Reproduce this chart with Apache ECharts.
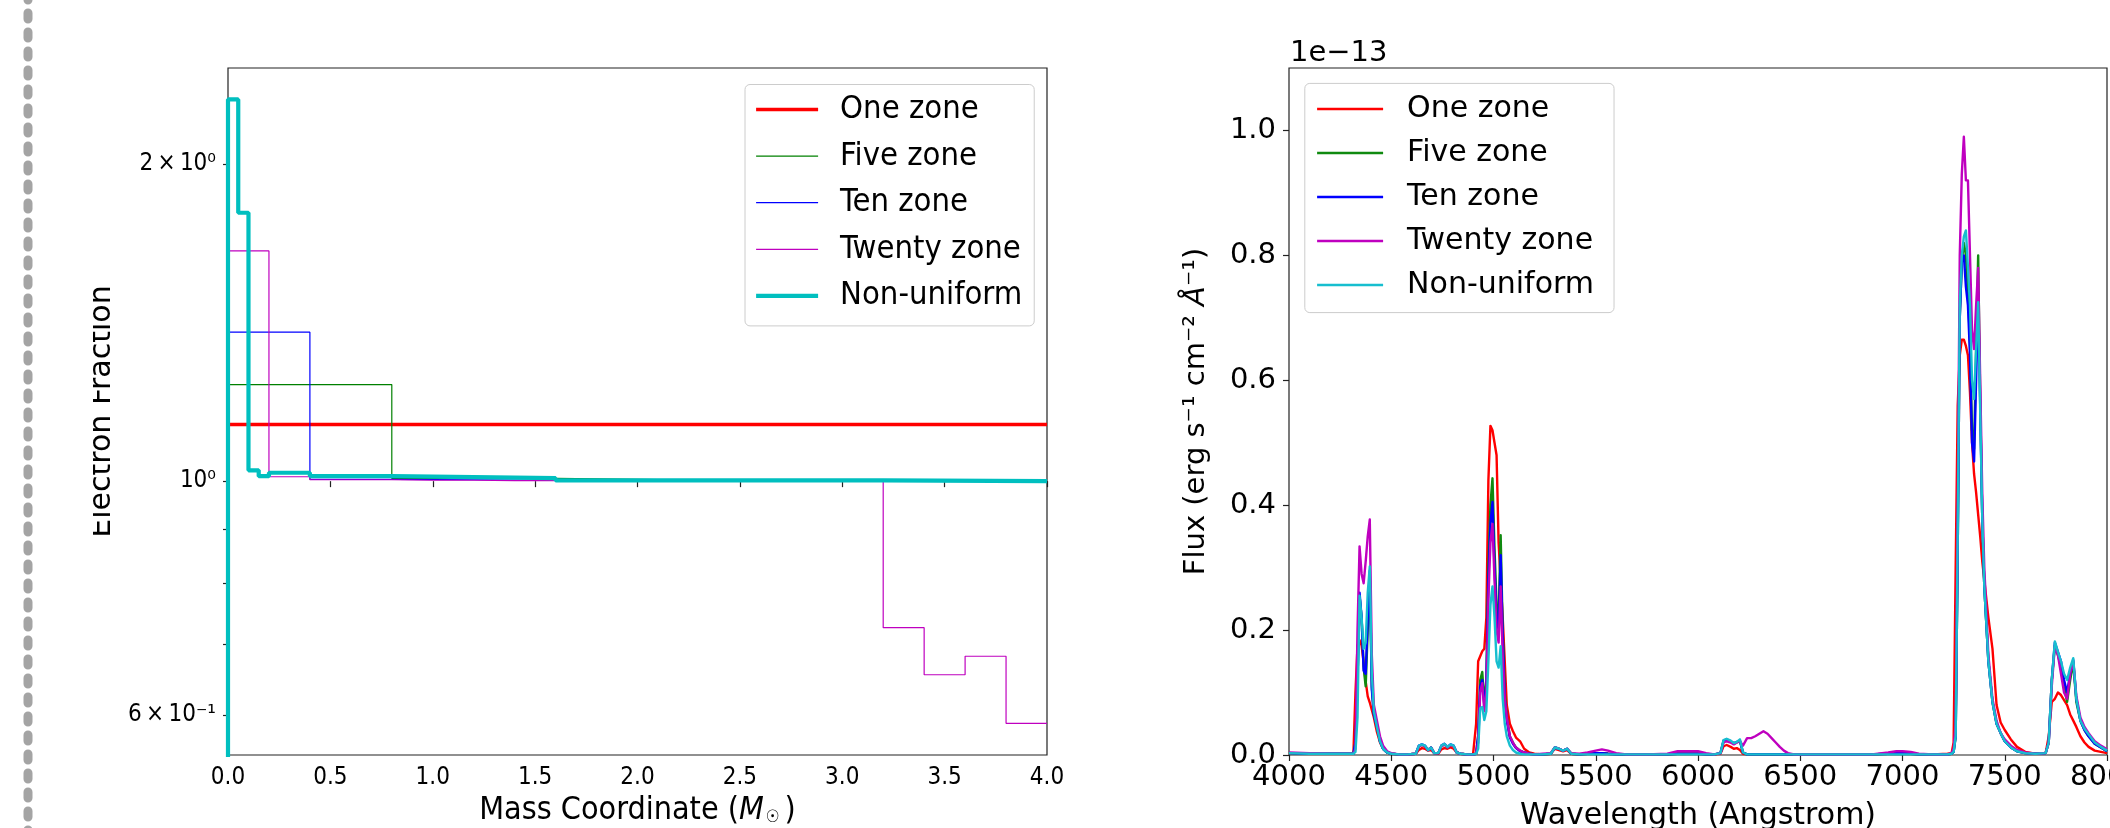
<!DOCTYPE html>
<html><head><meta charset="utf-8">
<script src="https://cdn.jsdelivr.net/npm/echarts@6/dist/echarts.min.js"></script>
<style>
html,body{margin:0;padding:0;background:#fff;overflow:hidden;width:2110px;height:828px}
#c1{position:absolute;left:0;top:0;width:1100px;height:828px}
#c2{position:absolute;left:1100px;top:0;width:1010px;height:828px}
</style></head><body><div id="c1"></div><div id="c2"></div>
<script>
// ---------------- DATA ----------------
const seriesNames = ['One zone', 'Five zone', 'Ten zone', 'Twenty zone', 'Non-uniform'];

// Left panel: electron fraction step profiles (zone edges in M_sun, value per zone)
const oneEdges = [0, 4.0];
const oneVals = [1.132];
const fiveEdges = [0, 0.8, 1.6, 2.4, 3.2, 4.0];
const fiveVals = [1.235, 1.006, 1.002, 1.001, 1.0];
const tenEdges = [0, 0.4, 0.8, 1.2, 1.6, 2.0, 2.4, 2.8, 3.2, 3.6, 4.0];
const tenVals = [1.385, 1.004, 1.003, 1.002, 1.001, 1.001, 1.0, 1.0, 1.0, 1.0];
const twentyEdges = [0, 0.2, 0.4, 0.6, 0.8, 1.0, 1.2, 1.4, 1.6, 1.8, 2.0, 2.2, 2.4, 2.6, 2.8, 3.0, 3.2, 3.4, 3.6, 3.8, 4.0];
const twentyVals = [1.654, 1.0097, 1.003, 1.003, 1.002, 1.002, 1.001, 1.001, 1.001, 1.001, 1.0, 1.0, 1.0, 1.0, 1.0, 1.0, 0.726, 0.655, 0.682, 0.589];
const nonEdges = [0, 0, 0.05, 0.1, 0.15, 0.2, 0.4, 0.8, 1.6, 3.2, 4.0];
const nonVals = [0.5, 2.303, 1.798, 1.024, 1.011, 1.0185, 1.011, 1.0066, 1.0015, 1.0];

// Left panel axis
const leftYMin = 0.5496, leftYMax = 2.467;
const leftYLabelValues = [0.6, 1, 2];
const leftYLabelTexts = ['6\u2009×\u200910⁻¹', '10⁰', '2\u2009×\u200910⁰'];
const leftYTickValues = [0.6, 0.7, 0.8, 0.9, 1, 2];

// Right panel: spectra (flux in units of 1e-13 erg/s/cm2/A)
const wl = [
 4000,4100,4200,4300,
 4315,4325,4335,4345,4355,4365,4375,4385,4395,4405,
 4415,4430,4445,4460,4480,4500,4540,4580,4620,4635,
 4650,4665,4680,4695,4710,4730,4745,4760,4775,4790,
 4805,4820,4840,4870,4900,4915,4925,4935,4945,4955,
 4965,4975,4985,4995,5005,5015,5025,5035,5045,5055,
 5065,5080,5095,5110,5130,5150,5175,5200,5240,5280,
 5300,5320,5340,5360,5380,5420,5460,5500,5530,5560,
 5600,5650,5750,5850,5900,5950,6000,6040,6080,6110,
 6125,6140,6160,6175,6190,6205,6220,6240,6260,6280,
 6300,6320,6340,6360,6380,6400,6420,6440,6470,6550,
 6700,6850,6930,6970,7000,7040,7080,7150,7220,7240,
 7250,7260,7270,7280,7290,7300,7310,7320,7330,7340,
 7350,7360,7370,7380,7390,7400,7420,7440,7460,7480,
 7500,7530,7560,7600,7650,7700,7715,7730,7745,7760,
 7775,7790,7805,7820,7835,7850,7870,7890,7910,7940,
 7970,8000
];
const fluxOne = [
 0.003,0.002,0.002,0.002,
 0.003,0.10,0.175,0.184,0.175,0.148,0.118,0.094,0.084,0.072,
 0.06,0.037,0.02,0.01,0.004,0.002,0.001,0.001,0.002,0.008,
 0.011,0.01,0.007,0.008,0.003,0.002,0.009,0.011,0.01,0.012,
 0.01,0.004,0.002,0.001,0.001,0.05,0.15,0.158,0.166,0.17,
 0.22,0.44,0.527,0.52,0.50,0.48,0.34,0.28,0.22,0.15,
 0.08,0.05,0.038,0.028,0.022,0.01,0.004,0.002,0.001,0.002,
 0.01,0.008,0.006,0.008,0.002,0.001,0.002,0.003,0.003,0.002,
 0.001,0.001,0.001,0.001,0.002,0.002,0.002,0.001,0.001,0.002,
 0.014,0.016,0.013,0.01,0.011,0.008,0.002,0.001,0.001,0.001,
 0.001,0.001,0.001,0.001,0.001,0.001,0.001,0.001,0.001,0.001,
 0.001,0.001,0.002,0.003,0.003,0.002,0.001,0.001,0.002,0.003,
 0.02,0.30,0.56,0.64,0.665,0.665,0.655,0.64,0.58,0.50,
 0.45,0.42,0.385,0.35,0.31,0.28,0.22,0.17,0.08,0.052,
 0.04,0.025,0.013,0.005,0.002,0.003,0.03,0.085,0.09,0.10,
 0.096,0.088,0.08,0.065,0.055,0.045,0.03,0.02,0.013,0.007,
 0.005,0.003
];
const fluxFive = [
 0.003,0.002,0.002,0.002,
 0.002,0.02,0.12,0.255,0.22,0.14,0.11,0.20,0.29,0.11,
 0.065,0.045,0.022,0.01,0.004,0.002,0.001,0.001,0.002,0.014,
 0.016,0.014,0.008,0.012,0.003,0.003,0.014,0.017,0.012,0.016,
 0.014,0.004,0.002,0.001,0.001,0.002,0.03,0.12,0.133,0.085,
 0.12,0.30,0.40,0.443,0.33,0.24,0.22,0.352,0.20,0.10,
 0.06,0.03,0.02,0.012,0.007,0.004,0.002,0.001,0.001,0.002,
 0.012,0.01,0.007,0.01,0.002,0.001,0.002,0.003,0.003,0.002,
 0.001,0.001,0.001,0.001,0.002,0.002,0.002,0.001,0.001,0.003,
 0.022,0.024,0.021,0.018,0.02,0.022,0.004,0.001,0.001,0.001,
 0.001,0.001,0.001,0.001,0.001,0.001,0.001,0.001,0.001,0.001,
 0.001,0.001,0.002,0.003,0.003,0.002,0.001,0.001,0.001,0.002,
 0.005,0.03,0.33,0.70,0.79,0.82,0.80,0.74,0.66,0.52,
 0.49,0.65,0.80,0.57,0.38,0.27,0.15,0.085,0.05,0.035,
 0.022,0.012,0.006,0.003,0.002,0.003,0.02,0.12,0.175,0.16,
 0.14,0.11,0.085,0.12,0.148,0.085,0.055,0.04,0.03,0.018,
 0.012,0.006
];
const fluxTen = [
 0.003,0.002,0.002,0.002,
 0.002,0.02,0.12,0.26,0.22,0.135,0.13,0.22,0.295,0.105,
 0.065,0.045,0.022,0.01,0.004,0.002,0.001,0.001,0.002,0.015,
 0.017,0.015,0.008,0.012,0.003,0.003,0.015,0.018,0.013,0.017,
 0.015,0.004,0.002,0.001,0.001,0.002,0.03,0.11,0.12,0.08,
 0.11,0.28,0.37,0.405,0.30,0.22,0.20,0.32,0.19,0.09,
 0.055,0.028,0.018,0.011,0.006,0.004,0.002,0.001,0.001,0.002,
 0.012,0.01,0.007,0.01,0.002,0.001,0.002,0.003,0.003,0.002,
 0.001,0.001,0.001,0.001,0.002,0.002,0.002,0.001,0.001,0.003,
 0.023,0.025,0.022,0.019,0.021,0.023,0.004,0.001,0.001,0.001,
 0.001,0.001,0.001,0.001,0.001,0.001,0.001,0.001,0.001,0.001,
 0.001,0.001,0.002,0.003,0.003,0.002,0.001,0.001,0.001,0.002,
 0.005,0.03,0.33,0.70,0.79,0.80,0.75,0.72,0.64,0.50,
 0.47,0.60,0.74,0.56,0.38,0.27,0.15,0.085,0.05,0.035,
 0.022,0.012,0.006,0.003,0.002,0.003,0.02,0.12,0.18,0.165,
 0.15,0.12,0.10,0.13,0.152,0.09,0.055,0.04,0.03,0.018,
 0.012,0.006
];
const fluxTwenty = [
 0.004,0.003,0.002,0.002,
 0.002,0.01,0.20,0.334,0.29,0.275,0.31,0.35,0.377,0.16,
 0.08,0.055,0.03,0.015,0.006,0.003,0.001,0.001,0.002,0.014,
 0.016,0.014,0.008,0.012,0.003,0.003,0.014,0.017,0.012,0.016,
 0.014,0.004,0.002,0.001,0.001,0.002,0.02,0.10,0.115,0.07,
 0.10,0.25,0.34,0.37,0.28,0.20,0.18,0.27,0.16,0.09,
 0.06,0.03,0.02,0.012,0.007,0.004,0.002,0.001,0.002,0.003,
 0.012,0.01,0.007,0.01,0.003,0.002,0.004,0.007,0.009,0.007,
 0.003,0.001,0.001,0.002,0.006,0.006,0.006,0.003,0.001,0.003,
 0.02,0.022,0.02,0.017,0.02,0.022,0.015,0.027,0.027,0.03,
 0.034,0.038,0.034,0.027,0.02,0.013,0.007,0.003,0.001,0.001,
 0.001,0.001,0.004,0.006,0.006,0.005,0.002,0.001,0.001,0.003,
 0.01,0.05,0.40,0.80,0.93,0.99,0.92,0.92,0.80,0.68,
 0.65,0.72,0.78,0.60,0.42,0.30,0.16,0.09,0.055,0.035,
 0.025,0.015,0.008,0.004,0.002,0.003,0.02,0.11,0.175,0.16,
 0.13,0.10,0.09,0.13,0.15,0.095,0.06,0.045,0.035,0.022,
 0.015,0.009
];
const fluxNon = [
 0.003,0.002,0.002,0.002,
 0.002,0.005,0.06,0.255,0.22,0.17,0.18,0.26,0.302,0.13,
 0.07,0.045,0.022,0.01,0.004,0.002,0.001,0.001,0.002,0.015,
 0.017,0.015,0.008,0.012,0.003,0.003,0.015,0.018,0.013,0.017,
 0.015,0.004,0.002,0.001,0.001,0.002,0.01,0.075,0.077,0.056,
 0.07,0.15,0.24,0.27,0.22,0.15,0.14,0.174,0.09,0.05,
 0.03,0.015,0.008,0.004,0.002,0.001,0.001,0.001,0.001,0.002,
 0.012,0.01,0.007,0.01,0.002,0.001,0.001,0.001,0.001,0.001,
 0.001,0.001,0.001,0.001,0.001,0.001,0.001,0.001,0.001,0.003,
 0.024,0.026,0.023,0.019,0.021,0.025,0.004,0.001,0.001,0.001,
 0.001,0.001,0.001,0.001,0.001,0.001,0.001,0.001,0.001,0.001,
 0.001,0.001,0.001,0.001,0.001,0.001,0.001,0.001,0.001,0.002,
 0.005,0.03,0.35,0.72,0.80,0.83,0.84,0.78,0.72,0.60,
 0.57,0.65,0.725,0.55,0.38,0.27,0.15,0.085,0.05,0.035,
 0.022,0.012,0.006,0.003,0.002,0.003,0.02,0.12,0.182,0.165,
 0.15,0.13,0.12,0.14,0.155,0.09,0.055,0.042,0.033,0.02,
 0.013,0.007
];
const rightYTicks = [0, 0.2, 0.4, 0.6, 0.8, 1.0];

// ---------------- STYLE ----------------
const F = "'DejaVu Sans', sans-serif";
const FC = "'DejaVu Sans Condensed', 'DejaVu Sans', sans-serif";
const leftColors = ['#ff0000', '#008000', '#0000ff', '#bf00bf', '#00bfbf'];
const leftWidths = [3.5, 1.2, 1.2, 1.2, 4.2];
const rightColors = ['#ff0000', '#108a10', '#0000ff', '#bf00bf', '#17becf'];

function stepPoints(edges, vals) {
  const pts = vals.map((v, i) => [edges[i], v]);
  pts.push([edges[edges.length - 1], vals[vals.length - 1]]);
  return pts;
}

// ---------------- LEFT CHART ----------------
const leftData = [
  stepPoints(oneEdges, oneVals),
  stepPoints(fiveEdges, fiveVals),
  stepPoints(tenEdges, tenVals),
  stepPoints(twentyEdges, twentyVals),
  stepPoints(nonEdges, nonVals)
];
const c1 = echarts.init(document.getElementById('c1'), null, {renderer: 'canvas'});
c1.setOption({
  animation: false,
  backgroundColor: '#ffffff',
  graphic: [
    {type: 'line', silent: true, z: 10,
     shape: {x1: 28, y1: -6, x2: 28, y2: 840},
     style: {stroke: '#a4a4a4', lineWidth: 9, lineDash: [6, 13], lineCap: 'round'}},
    // the reference crops the top of the rotated y-axis title
    {type: 'rect', silent: true, z: 100,
     shape: {x: 60, y: 260, width: 33, height: 300},
     style: {fill: '#ffffff'}}
  ],
  grid: {left: 228, top: 68, width: 819, height: 687, show: true, outerBoundsMode: 'none',
         borderColor: '#222', borderWidth: 1.2, backgroundColor: 'transparent', containLabel: false},
  xAxis: {
    type: 'value', min: 0, max: 4, interval: 0.5,
    axisLine: {show: false},
    axisTick: {show: true, length: 6, lineStyle: {color: '#222', width: 1.2}},
    axisLabel: {margin: 11, fontSize: 24, fontFamily: FC, fontWeight: 'condensed', color: '#000',
                formatter: v => v.toFixed(1)},
    splitLine: {show: false},
    name: 'Mass Coordinate ({i|M}{s|☉})',
    nameLocation: 'middle', nameGap: 39,
    nameTextStyle: {fontSize: 32, fontFamily: FC, fontWeight: 'condensed', color: '#000', lineHeight: 30,
      rich: {
        i: {fontSize: 32, fontFamily: FC, fontStyle: 'italic', color: '#000', lineHeight: 30},
        s: {fontSize: 17, fontFamily: F, color: '#000', verticalAlign: 'bottom', lineHeight: 30, padding: [0, 5, 0, 2]}
      }}
  },
  yAxis: [
    {type: 'log', logBase: 10, min: leftYMin, max: leftYMax, show: false, position: 'left'},
    {
      type: 'value', position: 'left', min: Math.log10(leftYMin), max: Math.log10(leftYMax),
      axisLine: {show: false},
      axisTick: {show: true, length: 5, customValues: leftYTickValues.map(Math.log10),
                 lineStyle: {color: '#222', width: 1.2}},
      axisLabel: {margin: 12, fontSize: 24, fontFamily: FC, fontWeight: 'condensed', color: '#000',
        customValues: leftYLabelValues.map(Math.log10),
        formatter: v => {
          const i = leftYLabelValues.findIndex(t => Math.abs(Math.log10(t) - v) < 1e-6);
          return i >= 0 ? leftYLabelTexts[i] : '';
        }},
      splitLine: {show: false},
      name: 'Electron Fraction', nameLocation: 'middle', nameGap: 108,
      nameTextStyle: {fontSize: 30, fontFamily: F, color: '#000'}
    }
  ],
  legend: {
    orient: 'vertical', left: 745, top: 84.5,
    itemWidth: 62, itemHeight: 14, itemGap: 13.6,
    padding: [8.5, 12, 13.5, 9],
    backgroundColor: 'rgba(255,255,255,0.8)', borderColor: '#cccccc', borderWidth: 1, borderRadius: 5,
    selectedMode: false,
    textStyle: {fontSize: 32.5, fontFamily: FC, fontWeight: 'condensed', color: '#000', lineHeight: 32, padding: [0, 0, 0, 17]},
    data: seriesNames.map((n, i) => ({name: n, itemStyle: {opacity: 0},
                                      lineStyle: {width: leftWidths[i], color: leftColors[i]}}))
  },
  series: seriesNames.map((n, i) => ({
    name: n, type: 'line', step: 'end', data: leftData[i], yAxisIndex: 0,
    symbol: 'none', clip: true, silent: true,
    lineStyle: {color: leftColors[i], width: leftWidths[i]},
    itemStyle: {color: leftColors[i]}
  }))
});

// ---------------- RIGHT CHART ----------------
const rightFlux = [fluxOne, fluxFive, fluxTen, fluxTwenty, fluxNon];
const c2 = echarts.init(document.getElementById('c2'), null, {renderer: 'canvas'});
c2.setOption({
  animation: false,
  backgroundColor: '#ffffff',
  graphic: [{
    type: 'text', silent: true,
    style: {text: '1e\u221213', x: 190, y: 39, fill: '#000', font: "29px 'DejaVu Sans'", verticalAlign: 'top', align: 'left'}
  }],
  grid: {left: 189, top: 68, width: 818, height: 687, show: true, outerBoundsMode: 'none',
         borderColor: '#222', borderWidth: 1.2, backgroundColor: 'transparent', containLabel: false},
  xAxis: {
    type: 'value', min: 4000, max: 8000, interval: 500,
    axisLine: {show: false},
    axisTick: {show: true, length: 6, lineStyle: {color: '#222', width: 1.2}},
    axisLabel: {margin: 8, fontSize: 29, fontFamily: F, color: '#000', showMaxLabel: true,
                formatter: v => String(v)},
    splitLine: {show: false},
    name: 'Wavelength (Angstrom)', nameLocation: 'middle', nameGap: 46,
    nameTextStyle: {fontSize: 30, fontFamily: F, color: '#000'}
  },
  yAxis: {
    type: 'value', min: 0, max: 1.1,
    axisLine: {show: false},
    axisTick: {show: true, length: 6, customValues: rightYTicks, lineStyle: {color: '#222', width: 1.2}},
    axisLabel: {margin: 13, fontSize: 29, fontFamily: F, color: '#000', customValues: rightYTicks,
                formatter: v => v.toFixed(1)},
    splitLine: {show: false},
    name: 'Flux (erg s⁻¹ cm⁻² {i|Å}⁻¹)', nameLocation: 'middle', nameGap: 78,
    nameTextStyle: {fontSize: 29, fontFamily: F, color: '#000',
      rich: {i: {fontSize: 29, fontFamily: F, fontStyle: 'italic', color: '#000'}}}
  },
  legend: {
    orient: 'vertical', left: 204.8, top: 83.4,
    itemWidth: 66, itemHeight: 14, itemGap: 12,
    padding: [9.6, 20, 11.6, 11],
    backgroundColor: 'rgba(255,255,255,0.8)', borderColor: '#cccccc', borderWidth: 1, borderRadius: 5,
    selectedMode: false,
    textStyle: {fontSize: 30, fontFamily: F, color: '#000', lineHeight: 32, padding: [0, 0, 0, 19]},
    data: seriesNames.map((n, i) => ({name: n, itemStyle: {opacity: 0},
                                      lineStyle: {width: 2.6, color: rightColors[i]}}))
  },
  series: seriesNames.map((n, i) => ({
    name: n, type: 'line', data: wl.map((w, k) => [w, rightFlux[i][k]]),
    symbol: 'none', clip: true, silent: true,
    lineStyle: {color: rightColors[i], width: 2.4, join: 'round'},
    itemStyle: {color: rightColors[i]}
  }))
});
</script>
</body></html>
